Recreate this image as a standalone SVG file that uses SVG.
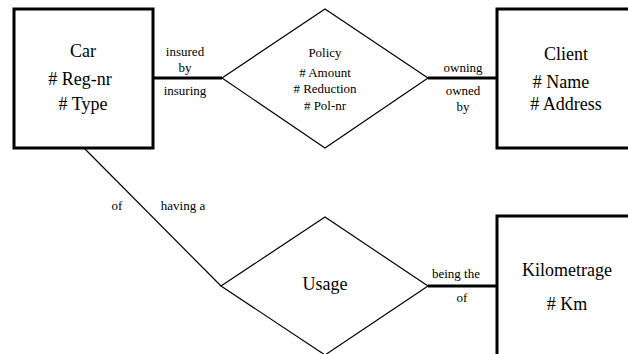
<svg xmlns="http://www.w3.org/2000/svg" width="628" height="354" viewBox="0 0 628 354">
<style>
.ent{fill:#fff;stroke:#000;stroke-width:3}
.rel{fill:#fff;stroke:#000;stroke-width:1.2}
text{font-family:'Liberation Serif','Times New Roman','DejaVu Serif',serif;fill:#000;text-anchor:middle}
.big{font-size:18px}
.sm{font-size:13px}
.thick{stroke:#000;stroke-width:3;fill:none}
.thin{stroke:#000;stroke-width:1.2;fill:none}
</style>
<rect width="628" height="354" fill="#fff"/>
<g id="connectors" font-family="Liberation Serif, serif">
<line class="thick" x1="153" y1="78" x2="222" y2="78"/>
<line class="thick" x1="428" y1="78" x2="497" y2="78"/>
<line class="thin" x1="84" y1="148" x2="221" y2="286"/>
<line class="thick" x1="428" y1="286" x2="497" y2="286"/>
<text class="sm" x="185" y="56">insured</text>
<text class="sm" x="185" y="72">by</text>
<text class="sm" x="185" y="95">insuring</text>
<text class="sm" x="463" y="72">owning</text>
<text class="sm" x="463" y="95">owned</text>
<text class="sm" x="463" y="111">by</text>
<text class="sm" x="117" y="210">of</text>
<text class="sm" x="183" y="210">having a</text>
<text class="sm" x="456" y="278">being the</text>
<text class="sm" x="462" y="302">of</text>
</g>
<g id="car" font-family="Liberation Serif, serif">
<rect class="ent" x="14" y="9" width="139" height="139"/>
<text class="big" x="83" y="57">Car</text>
<text class="big" x="80" y="85"># Reg-nr</text>
<text class="big" x="83" y="110"># Type</text>
</g>
<g id="policy" font-family="Liberation Serif, serif">
<polygon class="rel" points="222,78 325,9 428,78 325,148"/>
<text class="sm" x="325" y="57">Policy</text>
<text class="sm" x="325" y="77"># Amount</text>
<text class="sm" x="325" y="93"># Reduction</text>
<text class="sm" x="325" y="110"># Pol-nr</text>
</g>
<g id="client" font-family="Liberation Serif, serif">
<rect class="ent" x="497" y="9" width="140" height="139"/>
<text class="big" x="566" y="60">Client</text>
<text class="big" x="561" y="88"># Name</text>
<text class="big" x="566" y="110"># Address</text>
</g>
<g id="usage" font-family="Liberation Serif, serif">
<polygon class="rel" points="221,286 325,217 428,286 325,355"/>
<text class="big" x="325" y="290">Usage</text>
</g>
<g id="kilometrage" font-family="Liberation Serif, serif">
<rect class="ent" x="497" y="216" width="140" height="150"/>
<text class="big" x="567" y="276">Kilometrage</text>
<text class="big" x="567" y="310"># Km</text>
</g>
</svg>
